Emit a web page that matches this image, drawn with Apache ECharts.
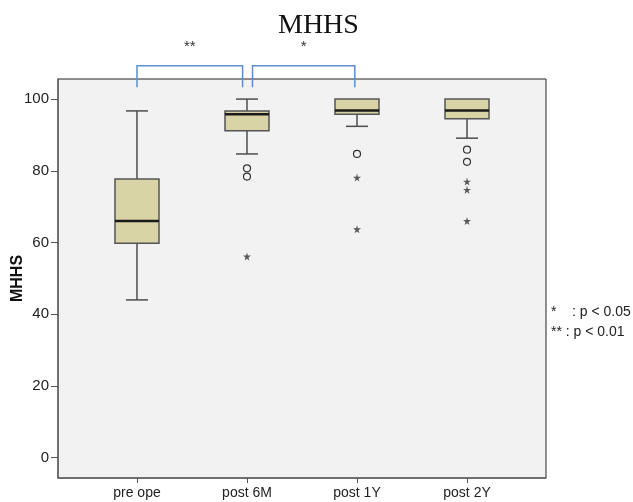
<!DOCTYPE html>
<html>
<head>
<meta charset="utf-8">
<script src="https://cdn.jsdelivr.net/npm/echarts@6/dist/echarts.min.js"></script>
<style>
html,body{margin:0;padding:0;background:#fff;}
#chart{width:633px;height:502px;}
</style>
</head>
<body>
<div id="chart"></div>
<script>
// ---- data ----
var categories = ['pre ope', 'post 6M', 'post 1Y', 'post 2Y'];
var boxMin    = [44.0, 84.7, 92.4, 89.1];
var boxQ1     = [59.8, 91.2, 95.8, 94.5];
var boxMedian = [66.0, 95.8, 96.8, 96.8];
var boxQ3     = [77.7, 96.7, 100, 100];
var boxMax    = [96.7, 100, 100, 100];
var outlierCircles = [[1, 80.7], [1, 78.4], [2, 84.7], [3, 85.9], [3, 82.5]];
var outlierStars   = [[1, 56.1], [2, 78.1], [2, 63.7], [3, 77.0], [3, 74.7], [3, 66.0]];
var yTicks = [0, 20, 40, 60, 80, 100];
var bracketFrom  = [0, 1.05];
var bracketTo    = [0.96, 1.98];
var bracketLow   = [103.3, 103.3];
var bracketTop   = [109.3, 109.3];
var bracketLabelY = [114.6, 114.6];
var bracketLabels = ['**', '*'];

var boxData = categories.map(function (c, i) {
  return [i, boxMin[i], boxQ1[i], boxMedian[i], boxQ3[i], boxMax[i]];
});
var bracketData = bracketLabels.map(function (l, i) {
  return [bracketFrom[i], bracketTo[i], bracketLow[i], bracketTop[i], bracketLabelY[i], i];
});

var chart = echarts.init(document.getElementById('chart'), null, {renderer: 'canvas'});
var starPath = 'path://M50,0 L61,35 L98,35 L68,57 L79,91 L50,70 L21,91 L32,57 L2,35 L39,35 Z';

var option = {
  backgroundColor: '#ffffff',
  animation: false,
  title: {
    text: 'MHHS',
    left: 273,
    top: 7,
    textStyle: {fontFamily: 'Liberation Serif', fontWeight: 'normal', fontSize: 28, color: '#111'}
  },
  grid: {
    left: 58, top: 79, right: 87, bottom: 24,
    outerBoundsMode: 'none',
    containLabel: false,
    show: true, backgroundColor: '#f2f2f2', borderColor: '#222', borderWidth: 1
  },
  xAxis: {
    type: 'value',
    min: -0.718, max: 3.718,
    splitLine: {show: false},
    axisLine: {show: true, onZero: false, lineStyle: {color: '#666', width: 1.5}},
    axisTick: {show: true, customValues: [0, 1, 2, 3], length: 5, lineStyle: {color: '#555'}},
    axisLabel: {
      customValues: [0, 1, 2, 3],
      formatter: function (v) { return categories[Math.round(v)]; },
      fontFamily: 'Liberation Sans', fontSize: 14, color: '#222', margin: 8
    }
  },
  yAxis: {
    type: 'value',
    min: -5.66, max: 105.6,
    name: 'MHHS',
    nameLocation: 'middle',
    nameGap: 32,
    nameMoveOverlap: false,
    nameTextStyle: {fontFamily: 'Liberation Sans', fontWeight: 'bold', fontSize: 16, color: '#111'},
    splitLine: {show: false},
    axisLine: {show: true, onZero: false, lineStyle: {color: '#666', width: 1.5}},
    axisTick: {show: true, customValues: yTicks, length: 7, lineStyle: {color: '#555'}},
    axisLabel: {
      customValues: yTicks,
      fontFamily: 'Liberation Sans', fontSize: 15, color: '#222', margin: 9
    }
  },
  graphic: [
    {type: 'text', left: 551, top: 305, style: {text: '*    : p < 0.05', font: '14px "Liberation Sans"', fill: '#222'}},
    {type: 'text', left: 551, top: 325, style: {text: '** : p < 0.01', font: '14px "Liberation Sans"', fill: '#222'}}
  ],
  series: [
    {
      type: 'custom',
      name: 'box',
      data: boxData,
      encode: {x: 0, y: [1, 2, 3, 4, 5]},
      renderItem: function (params, api) {
        var x = api.value(0);
        var pMin = api.coord([x, api.value(1)]);
        var pQ1 = api.coord([x, api.value(2)]);
        var pMed = api.coord([x, api.value(3)]);
        var pQ3 = api.coord([x, api.value(4)]);
        var pMax = api.coord([x, api.value(5)]);
        var half = api.size([0.4, 0])[0] / 2;
        var cap = half / 2;
        var cx = pMed[0];
        var lineStyle = {stroke: '#4d4d4d', lineWidth: 1.5};
        var children = [];
        if (pMax[1] < pQ3[1] - 0.5) {
          children.push({type: 'line', shape: {x1: cx, y1: pMax[1], x2: cx, y2: pQ3[1]}, style: lineStyle});
          children.push({type: 'line', shape: {x1: cx - cap, y1: pMax[1], x2: cx + cap, y2: pMax[1]}, style: lineStyle});
        }
        if (pMin[1] > pQ1[1] + 0.5) {
          children.push({type: 'line', shape: {x1: cx, y1: pQ1[1], x2: cx, y2: pMin[1]}, style: lineStyle});
          children.push({type: 'line', shape: {x1: cx - cap, y1: pMin[1], x2: cx + cap, y2: pMin[1]}, style: lineStyle});
        }
        children.push({
          type: 'rect',
          shape: {x: cx - half, y: pQ3[1], width: half * 2, height: pQ1[1] - pQ3[1]},
          style: {fill: '#d9d4a6', stroke: '#555', lineWidth: 1.5}
        });
        children.push({type: 'line', shape: {x1: cx - half, y1: pMed[1], x2: cx + half, y2: pMed[1]}, style: {stroke: '#1a1a1a', lineWidth: 2.5}});
        return {type: 'group', children: children};
      },
      z: 3
    },
    {
      type: 'scatter',
      name: 'circles',
      data: outlierCircles,
      symbol: 'circle',
      symbolSize: 7,
      itemStyle: {color: '#f2f2f2', borderColor: '#333', borderWidth: 1.2, opacity: 1},
      z: 4
    },
    {
      type: 'scatter',
      name: 'stars',
      data: outlierStars,
      symbol: starPath,
      symbolSize: 8,
      itemStyle: {color: '#333'},
      z: 4
    },
    {
      type: 'custom',
      name: 'brackets',
      data: bracketData,
      clip: false,
      encode: {x: [0, 1], y: [2, 3]},
      renderItem: function (params, api) {
        var a = api.coord([api.value(0), api.value(2)]);
        var b = api.coord([api.value(0), api.value(3)]);
        var c = api.coord([api.value(1), api.value(3)]);
        var d = api.coord([api.value(1), api.value(2)]);
        var t = api.coord([(api.value(0) + api.value(1)) / 2, api.value(4)]);
        var idx = api.value(5);
        return {
          type: 'group',
          children: [
            {type: 'polyline', shape: {points: [a, b, c, d]}, style: {stroke: '#5b8fd0', lineWidth: 1.5, fill: null}},
            {type: 'text', x: t[0], y: t[1], style: {text: bracketLabels[idx], font: '15px "Liberation Sans"', fill: '#333', align: 'center', verticalAlign: 'middle'}}
          ]
        };
      },
      z: 5
    }
  ]
};
chart.setOption(option);
</script>
</body>
</html>
